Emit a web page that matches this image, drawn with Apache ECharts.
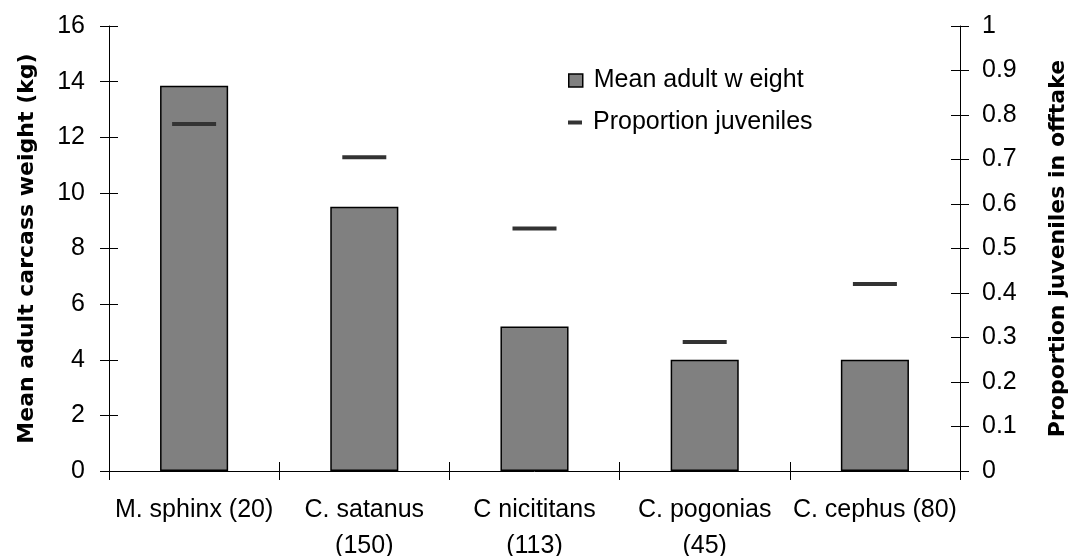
<!DOCTYPE html>
<html><head><meta charset="utf-8">
<script src="https://cdn.jsdelivr.net/npm/echarts@6/dist/echarts.min.js"></script>
<style>html,body{margin:0;padding:0;background:#fff}#c{width:1071px;height:556px}</style>
</head><body><div id="c"></div>
<script>
const categories = ['M. sphinx (20)', 'C. satanus\n(150)', 'C nicititans\n(113)', 'C. pogonias\n(45)', 'C. cephus (80)'];
const meanAdultWeight = [13.85, 9.5, 5.2, 4.0, 4.0];
const proportionJuveniles = [0.78, 0.705, 0.545, 0.29, 0.42];
const leftTicks = [0, 2, 4, 6, 8, 10, 12, 14, 16];
const rightTicks = [0, 0.1, 0.2, 0.3, 0.4, 0.5, 0.6, 0.7, 0.8, 0.9, 1];

const chart = echarts.init(document.getElementById('c'));
const font = 'Liberation Sans, Arial, sans-serif';
const boldFont = 'DejaVu Sans, sans-serif';
const tickStyle = { color: '#000', width: 1 };
chart.setOption({
  animation: false,
  backgroundColor: '#fff',
  grid: { left: 109, right: 111, top: 26, bottom: 85, containLabel: false, outerBoundsMode: 'none' },
  legend: [
    { data: ['Mean adult w eight'], left: 563, top: 63, itemWidth: 14, itemHeight: 13, icon: 'rect',
      itemStyle: { borderColor: '#000', borderWidth: 1.5 },
      textStyle: { fontFamily: font, fontSize: 25, color: '#000', padding: [0, 0, 0, 6] } },
    { data: ['Proportion juveniles'], left: 563, top: 105, itemWidth: 14, itemHeight: 4, icon: 'rect',
      textStyle: { fontFamily: font, fontSize: 25, color: '#000', padding: [0, 0, 0, 6] } }
  ],
  xAxis: [
    { type: 'category', data: categories,
      axisLine: { lineStyle: { color: '#000', width: 1 } },
      axisTick: { show: true, length: 9, lineStyle: tickStyle },
      axisLabel: { fontFamily: font, fontSize: 25, color: '#000', margin: 21, lineHeight: 36, interval: 0 } },
    { type: 'category', data: categories, position: 'bottom',
      axisLine: { show: false },
      axisTick: { show: true, inside: true, length: 9, lineStyle: tickStyle },
      axisLabel: { show: false } }
  ],
  yAxis: [
    { type: 'value', min: 0, max: 16, interval: 2, position: 'left',
      name: 'Mean adult carcass weight (kg)', nameLocation: 'middle', nameGap: 71, nameRotate: 90,
      nameTextStyle: { fontFamily: boldFont, fontSize: 22, fontWeight: 'bold', color: '#000' },
      axisLine: { show: true, lineStyle: { color: '#000' } },
      axisTick: { show: true, length: 9, lineStyle: tickStyle },
      axisLabel: { fontFamily: font, fontSize: 25, color: '#000', margin: 24 },
      splitLine: { show: false } },
    { type: 'value', min: 0, max: 1, interval: 0.1, position: 'right',
      name: 'Proportion juveniles in offtake', nameLocation: 'middle', nameGap: 87, nameRotate: 90,
      nameTextStyle: { fontFamily: boldFont, fontSize: 22, fontWeight: 'bold', color: '#000' },
      axisLine: { show: true, lineStyle: { color: '#000' } },
      axisTick: { show: true, length: 9, lineStyle: tickStyle },
      axisLabel: { fontFamily: font, fontSize: 25, color: '#000', margin: 22,
        formatter: v => String(Math.round(v * 10) / 10) },
      splitLine: { show: false } },
    { type: 'value', min: 0, max: 16, interval: 2, position: 'left',
      axisLine: { show: false }, axisTick: { show: true, inside: true, length: 9, lineStyle: tickStyle },
      axisLabel: { show: false }, splitLine: { show: false } },
    { type: 'value', min: 0, max: 1, interval: 0.1, position: 'right',
      axisLine: { show: false }, axisTick: { show: true, inside: true, length: 9, lineStyle: tickStyle },
      axisLabel: { show: false }, splitLine: { show: false } }
  ],
  series: [
    { name: 'Mean adult w eight', type: 'bar', data: meanAdultWeight, barWidth: '40%', yAxisIndex: 0,
      itemStyle: { color: '#808080', borderColor: '#000', borderWidth: 1.5 } },
    { name: 'Proportion juveniles', type: 'scatter', data: proportionJuveniles, yAxisIndex: 1,
      symbol: 'rect', symbolSize: [44, 4], itemStyle: { color: '#333', opacity: 1 } }
  ]
});
</script></body></html>
